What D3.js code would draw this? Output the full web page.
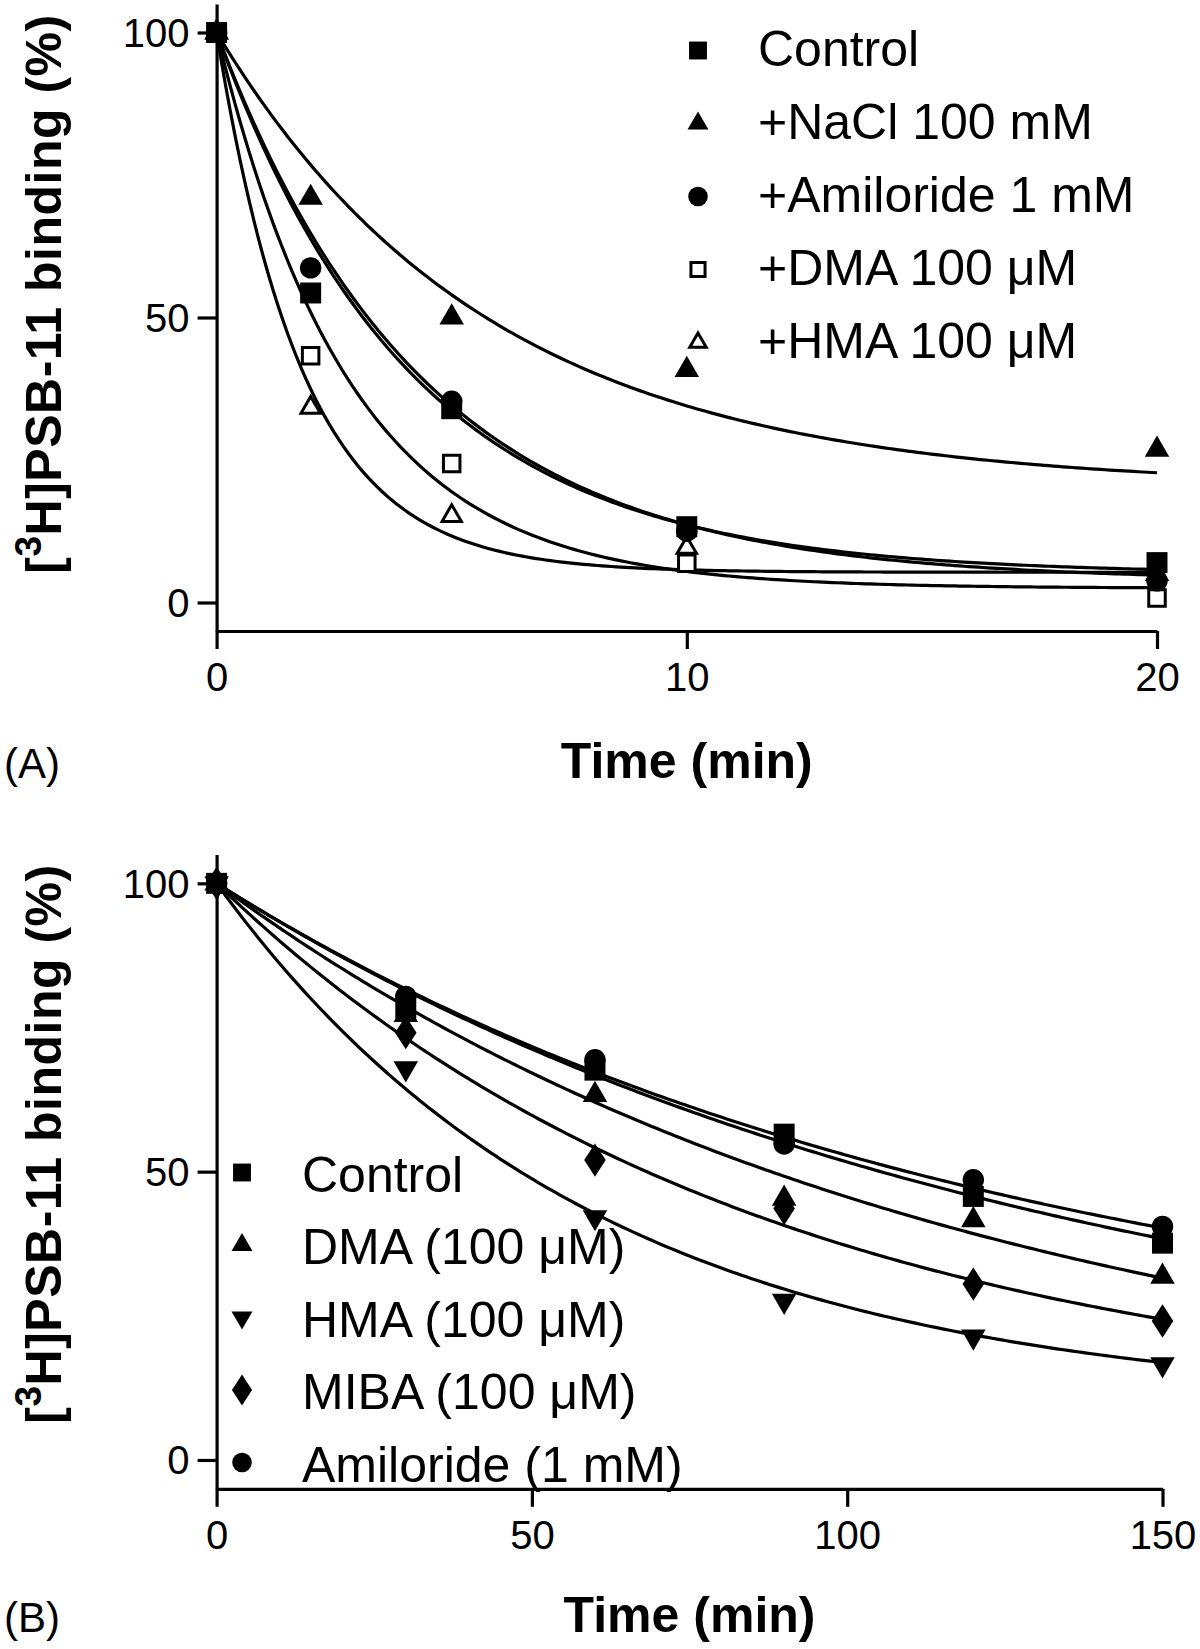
<!DOCTYPE html>
<html><head><meta charset="utf-8">
<script src="https://cdn.jsdelivr.net/npm/d3@7"></script>
<style>body{margin:0;background:#fff} text{font-family:"Liberation Sans",Arial,sans-serif;fill:#000}</style>
</head><body><svg id="c" width="1200" height="1649"></svg>
<script>
// ---------- Panel A data ----------
const timeA = [0, 2, 5, 10, 20];
const namesA = ["Control", "+NaCl 100 mM", "+Amiloride 1 mM", "+DMA 100 \u03bcM", "+HMA 100 \u03bcM"];
const controlA   = [100, 54.3, 34.0, 13.3, 7.0];
const naclA      = [100, 71.0, 50.0, 40.8, 26.8];
const amilorideA = [100, 58.7, 35.3, 12.5, 3.8];
const dmaA       = [100, 43.3, 24.4, 6.9, 0.8];
const hmaA       = [100, 34.2, 15.2, 9.6, 5.0];
// one-phase exponential decay fit parameters (k, plateau) per series
const rateA    = [0.24, 0.172, 0.228, 0.35, 0.54];
const plateauA = [5.0, 20.2, 3.8, 2.5, 5.3];
const xTicksA = [0, 10, 20];

// ---------- Panel B data ----------
const timeB = [0, 30, 60, 90, 120, 150];
const namesB = ["Control", "DMA (100 \u03bcM)", "HMA (100 \u03bcM)", "MIBA (100 \u03bcM)", "Amiloride (1 mM)"];
const controlB   = [100, 78.4, 67.6, 56.5, 45.7, 37.6];
const dmaB       = [100, 77.2, 63.3, 45.3, 41.6, 31.8];
const hmaB       = [100, 67.9, 42.1, 27.6, 21.4, 16.6];
const mibaB      = [100, 74.1, 52.0, 43.6, 30.5, 24.1];
const amilorideB = [100, 80.4, 69.4, 54.8, 48.6, 40.5];
const rateB    = [0.0077, 0.0085, 0.0167, 0.0115, 0.0081];
const plateauB = [10, 5, 9.5, 8, 15];
const xTicksB = [0, 50, 100, 150];

const yTicks = [0, 50, 100];

const svg = d3.select("#c");
const FONT = '"Liberation Sans", Arial, sans-serif';

function marker(g, spec, x, y, size) {
  let type = d3.symbolSquare, sz = size.sq, rot = 0;
  if (spec.shape === "tri") { type = d3.symbolTriangle; sz = size.tri; }
  if (spec.shape === "dtri") { type = d3.symbolTriangle; sz = size.tri; rot = 180; }
  if (spec.shape === "circ") { type = d3.symbolCircle; sz = size.circ; }
  if (spec.shape === "dia") { type = d3.symbolDiamond; sz = size.dia; }
  if (spec.open) sz *= 0.62;
  const p = g.append("path")
    .attr("d", d3.symbol().type(type).size(sz)())
    .attr("transform", `translate(${x},${y}) rotate(${rot})` + (spec.shape === "dia" ? " scale(1.12,1)" : ""));
  if (spec.open) p.attr("fill", "#fff").attr("stroke", "#000").attr("stroke-width", 3);
  else p.attr("fill", "#000");
}

function drawPanel(cfg) {
  const g = svg.append("g");
  const x = d3.scaleLinear().domain([0, cfg.xmax]).range(cfg.xr);
  const y = d3.scaleLinear().domain([-5, 105]).range(cfg.yr);

  // axes
  const ax = g.append("g").attr("transform", `translate(0,${y(-5)})`)
    .call(d3.axisBottom(x).tickValues(cfg.xticks).tickSize(18).tickSizeOuter(0).tickPadding(14));
  const ay = g.append("g").attr("transform", `translate(${x(0)},0)`)
    .call(d3.axisLeft(y).tickValues(yTicks).tickSize(19).tickSizeOuter(0).tickPadding(8));
  [ax, ay].forEach(a => {
    a.selectAll("path,line").attr("stroke", "#000").attr("stroke-width", 3.2);
    a.selectAll("text").attr("font-family", FONT).attr("font-size", 40).attr("fill", "#000");
  });
  ax.selectAll("text").attr("dy", "0.71em");
  ay.selectAll("text").attr("dy", "0.35em");

  // fitted curves
  const line = d3.line().x(d => x(d[0])).y(d => y(d[1]));
  cfg.series.forEach((s, i) => {
    const pts = d3.range(0, 201).map(j => {
      const t = cfg.xmax * j / 200;
      return [t, cfg.plateau[i] + (100 - cfg.plateau[i]) * Math.exp(-cfg.rate[i] * t)];
    });
    g.append("path").attr("d", line(pts)).attr("fill", "none")
      .attr("stroke", "#000").attr("stroke-width", 3.2);
  });

  // data markers
  cfg.drawOrder.forEach(i => {
    cfg.series[i].forEach((v, j) => marker(g, cfg.specs[i], x(cfg.time[j]), y(v), {sq: 440, tri: 260, circ: 360, dia: 320}));
  });

  // legend
  cfg.names.forEach((n, i) => {
    const ly = cfg.legY + i * cfg.legStep;
    marker(g, cfg.specs[i], cfg.legMx, ly, {sq: 320, tri: 190, circ: 300, dia: 280});
    g.append("text").attr("x", cfg.legTx).attr("y", ly + cfg.legOff)
      .attr("font-size", 50).attr("font-family", FONT).text(n);
  });

  // axis titles
  g.append("text").attr("x", (cfg.xr[0] + cfg.xr[1]) / 2).attr("y", cfg.xtY)
    .attr("text-anchor", "middle").attr("font-size", 50).attr("font-weight", "bold")
    .attr("font-family", FONT).text("Time (min)");
  const yt = g.append("text").attr("transform", `translate(61,${cfg.ytY}) rotate(-90)`)
    .attr("text-anchor", "middle").attr("font-size", 50).attr("font-weight", "bold")
    .attr("font-family", FONT).attr("letter-spacing", 0.5);
  yt.append("tspan").text("[");
  yt.append("tspan").attr("font-size", 37).attr("dy", -20).text("3");
  yt.append("tspan").attr("dy", 20).text("H]PSB-11 binding (%)");

  g.append("text").attr("x", 4).attr("y", cfg.labY).attr("font-size", 42)
    .attr("font-family", FONT).text(cfg.label);
}

drawPanel({
  xmax: 20, xr: [216.6, 1157], yr: [631, 4], xticks: xTicksA, time: timeA,
  series: [controlA, naclA, amilorideA, dmaA, hmaA], rate: rateA, plateau: plateauA,
  specs: [{shape: "sq"}, {shape: "tri"}, {shape: "circ"}, {shape: "sq", open: true}, {shape: "tri", open: true}],
  drawOrder: [4, 3, 1, 2, 0], names: namesA,
  legY: 50.5, legStep: 73, legMx: 698, legTx: 758, legOff: 15,
  xtY: 778, ytY: 294, labY: 778, label: "(A)"
});

drawPanel({
  xmax: 150, xr: [216.6, 1162.5], yr: [1488.8, 854.5], xticks: xTicksB, time: timeB,
  series: [controlB, dmaB, hmaB, mibaB, amilorideB], rate: rateB, plateau: plateauB,
  specs: [{shape: "sq"}, {shape: "tri"}, {shape: "dtri"}, {shape: "dia"}, {shape: "circ"}],
  drawOrder: [2, 3, 1, 4, 0], names: namesB,
  legY: 1172.5, legStep: 72.5, legMx: 242, legTx: 302, legOff: 19,
  xtY: 1632, ytY: 1144, labY: 1632, label: "(B)"
});
</script></body></html>
